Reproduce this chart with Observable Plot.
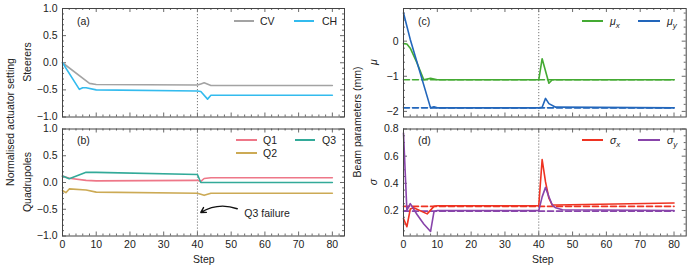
<!DOCTYPE html>
<html><head><meta charset="utf-8">
<script src="https://cdn.jsdelivr.net/npm/d3@7"></script>
<script src="https://cdn.jsdelivr.net/npm/@observablehq/plot@0.6"></script>
<style>
body{margin:0;background:#fff;font-family:"Liberation Sans",Arial,sans-serif;}
#chart{position:relative;width:691px;height:270px;overflow:hidden;background:#fff;}
#chart svg{position:absolute;}
.t{position:absolute;font-size:10.5px;color:#222;white-space:nowrap;line-height:12px;}
.sw{position:absolute;height:2px;}
.rot{position:absolute;font-size:10.5px;color:#222;white-space:nowrap;transform:translate(-50%,-50%) rotate(-90deg);}
</style></head><body><div id="chart"></div>
<script>
// ---------------- data ----------------
const failureStep = [40];
const xMajor = [0, 10, 20, 30, 40, 50, 60, 70, 80];

// (a) steerers
const cvStep = [0, 8, 10, 40, 41, 42, 44, 80];
const cvVal  = [0, -0.38, -0.40, -0.41, -0.39, -0.37, -0.42, -0.42];
const chStep = [0, 5, 6, 7, 10, 40, 41, 43, 44, 80];
const chVal  = [0, -0.49, -0.46, -0.46, -0.50, -0.52, -0.53, -0.67, -0.60, -0.60];

// (b) quadrupoles
const q1Step = [0, 2, 7, 10, 40, 41, 42, 44, 80];
const q1Val  = [0.12, 0.08, 0.04, 0.03, 0.04, 0.02, 0.075, 0.09, 0.09];
const q2Step = [0, 1, 2, 7, 10, 40, 42, 44, 80];
const q2Val  = [-0.15, -0.19, -0.12, -0.14, -0.18, -0.20, -0.24, -0.20, -0.20];
const q3Step = [0, 2, 7, 10, 40, 41, 80];
const q3Val  = [0.12, 0.07, 0.19, 0.19, 0.15, 0.0, 0.0];

// (c) beam centroid
const muxStep = [0, 1, 2, 4, 6, 7, 8, 9, 10, 40, 41, 43, 44, 80];
const muxVal  = [-0.07, -0.08, -0.2, -0.62, -1.1, -1.08, -1.06, -1.08, -1.1, -1.1, -0.5, -1.2, -1.1, -1.1];
const muyStep = [0, 2, 8, 9, 10, 40, 41, 42, 43, 45, 80];
const muyVal  = [0.8, 0.05, -1.9, -1.87, -1.9, -1.9, -1.88, -1.63, -1.78, -1.88, -1.9];
const muTargetStep = [0, 80];
const muxTarget = [-1.1, -1.1];
const muyTarget = [-1.9, -1.9];

// (d) beam size
const sxStep = [0, 1, 2, 3, 7, 9, 10, 40, 41, 42, 43, 44, 45, 80];
const sxVal  = [0.14, 0.08, 0.21, 0.22, 0.175, 0.23, 0.235, 0.235, 0.575, 0.41, 0.29, 0.24, 0.24, 0.255];
const syStep = [0, 1, 2, 4, 6, 8, 9, 10, 40, 41, 42, 43, 44, 45, 47, 80];
const syVal  = [0.77, 0.2, 0.25, 0.17, 0.1, 0.045, 0.19, 0.2, 0.2, 0.3, 0.37, 0.3, 0.24, 0.22, 0.205, 0.2];
const sTargetStep = [0, 80];
const sxTarget = [0.23, 0.23];
const syTarget = [0.195, 0.195];

// annotation
const annText = ["Q3 failure"];
const annTextPos = [[53.9, -0.58]];
const annArrow = [[51.8, -0.49, 41.0, -0.56]];

// ---------------- styling ----------------
const C = {cv:"#a3a3a3", ch:"#33bbee", q1:"#ee7788", q2:"#ccaa55", q3:"#33aa99",
           mux:"#44aa33", muy:"#2266bb", sx:"#ee3322", sy:"#8844aa"};
const axisCol = "#444";
const font = "'Liberation Sans', Arial, sans-serif";

const pts = (s, v) => s.map((x, i) => ({step: x, v: v[i]}));
const lineMark = (s, v, color, extra={}) => Plot.line(pts(s, v), {x:"step", y:"v", stroke:color, strokeWidth:1.6, ...extra});

function panel(o) {
  const ph = o.height - o.mT - o.mB, pw = o.width - o.mL - o.mR;
  const xDomain = [0, 83.6];
  const xMinor = d3.range(0, 84, 2).filter(d => d % 10 !== 0);
  const yMinor = o.yMinor.filter(d => !o.yMajor.some(m => Math.abs(m - d) < 1e-9));
  const tk = {stroke: axisCol, strokeWidth: 0.8};
  const marks = [
    Plot.ruleX(xMinor, {x: d => d, insetTop: ph - 2, ...tk}),
    Plot.ruleX(xMinor, {x: d => d, insetBottom: ph - 2, ...tk}),
    Plot.ruleX(xMajor, {x: d => d, insetTop: ph - 4, ...tk}),
    Plot.ruleX(xMajor, {x: d => d, insetBottom: ph - 4, ...tk}),
    Plot.ruleY(yMinor, {y: d => d, insetRight: pw - 2, ...tk}),
    Plot.ruleY(yMinor, {y: d => d, insetLeft: pw - 2, ...tk}),
    Plot.ruleY(o.yMajor, {y: d => d, insetRight: pw - 4, ...tk}),
    Plot.ruleY(o.yMajor, {y: d => d, insetLeft: pw - 4, ...tk}),
    Plot.ruleX(failureStep, {x: d => d, stroke: "#777", strokeWidth: 1, strokeDasharray: "1.2,1.8"}),
    ...o.marks,
    Plot.frame({stroke: axisCol, strokeWidth: 1}),
    Plot.axisY({ticks: o.yMajor, tickSize: 0, tickPadding: 5, tickFormat: o.yFmt, label: null, fill: "#222"})
  ];
  if (o.showX) marks.push(Plot.axisX({ticks: xMajor, tickSize: 0, tickPadding: 5, tickFormat: d => String(d), label: null, fill: "#222"}));
  const svg = Plot.plot({
    width: o.width, height: o.height,
    marginLeft: o.mL, marginRight: o.mR, marginTop: o.mT, marginBottom: o.mB,
    x: {domain: xDomain, axis: null, label: null},
    y: {domain: o.yDomain, axis: null, label: null},
    style: {background: "transparent", overflow: "visible", fontFamily: font, fontSize: "10.5px", color: "#222"},
    marks
  });
  svg.style.left = o.left + "px";
  svg.style.top = o.top + "px";
  return svg;
}

const chart = document.getElementById("chart");
const fmt1 = d3.format(".1f");
const fmt0 = d3.format("d");

// (a)
chart.appendChild(panel({
  left: 0, top: 0, width: 350, height: 122, mL: 62, mR: 6, mT: 8, mB: 5.5,
  yDomain: [-1, 1], yMajor: [-1, -0.5, 0, 0.5, 1], yMinor: d3.range(-1, 1.0001, 0.1).map(d => +d.toFixed(2)), yFmt: fmt1,
  showX: false,
  marks: [lineMark(cvStep, cvVal, C.cv), lineMark(chStep, chVal, C.ch)]
}));
// (b)
chart.appendChild(panel({
  left: 0, top: 120, width: 350, height: 150, mL: 62, mR: 6, mT: 8.5, mB: 34.5,
  yDomain: [-1, 1], yMajor: [-1, -0.5, 0, 0.5, 1], yMinor: d3.range(-1, 1.0001, 0.1).map(d => +d.toFixed(2)), yFmt: fmt1,
  showX: true,
  marks: [
    lineMark(q1Step, q1Val, C.q1), lineMark(q2Step, q2Val, C.q2), lineMark(q3Step, q3Val, C.q3),
    Plot.arrow(annArrow, {x1: d => d[0], y1: d => d[1], x2: d => d[2], y2: d => d[3], bend: -25, stroke: "#111", strokeWidth: 1.4, headLength: 6}),
    Plot.text(annText, {x: (d, i) => annTextPos[i][0], y: (d, i) => annTextPos[i][1], text: d => d, textAnchor: "start", fill: "#222", fontSize: 10.5})
  ]
}));
// (c)
chart.appendChild(panel({
  left: 345, top: 0, width: 346, height: 122, mL: 58, mR: 5.3, mT: 8, mB: 5.5,
  yDomain: [-2.16, 0.93], yMajor: [-2, -1, 0], yMinor: d3.range(-2.2, 1.0, 0.2).map(d => +d.toFixed(2)).filter(d => d >= -2.16 && d <= 0.93), yFmt: fmt0,
  showX: false,
  marks: [
    lineMark(muTargetStep, muxTarget, C.mux, {strokeDasharray: "6,3"}),
    lineMark(muTargetStep, muyTarget, C.muy, {strokeDasharray: "6,3"}),
    lineMark(muxStep, muxVal, C.mux), lineMark(muyStep, muyVal, C.muy)
  ]
}));
// (d)
chart.appendChild(panel({
  left: 345, top: 120, width: 346, height: 150, mL: 58, mR: 5.3, mT: 8.5, mB: 34.5,
  yDomain: [0.012, 0.8], yMajor: [0.2, 0.4, 0.6, 0.8], yMinor: d3.range(0.05, 0.8001, 0.05).map(d => +d.toFixed(2)), yFmt: fmt1,
  showX: true,
  marks: [
    lineMark(sTargetStep, sxTarget, C.sx, {strokeDasharray: "6,3"}),
    lineMark(sTargetStep, syTarget, C.sy, {strokeDasharray: "6,3"}),
    lineMark(sxStep, sxVal, C.sx), lineMark(syStep, syVal, C.sy)
  ]
}));

// ---------------- html text: labels & legends ----------------
function text(html, x, y, cls="t", extra="") {
  const d = document.createElement("div");
  d.className = cls; d.innerHTML = html;
  d.style.cssText += `left:${x}px;top:${y}px;${extra}`;
  chart.appendChild(d);
}
function swatch(x1, x2, y, color) {
  const d = document.createElement("div");
  d.className = "sw";
  d.style.cssText += `left:${x1}px;top:${y - 1}px;width:${x2 - x1}px;background:${color};`;
  chart.appendChild(d);
}
const legends = [
  [234, 254, 21, C.cv, "CV", 260], [294, 314, 21, C.ch, "CH", 322],
  [236, 257, 140, C.q1, "Q1", 263], [295, 315, 140, C.q3, "Q3", 322], [236, 257, 153, C.q2, "Q2", 263],
  [582, 603, 21, C.mux, "<i>μ<sub style='font-size:8px'>x</sub></i>", 610], [638, 660, 21, C.muy, "<i>μ<sub style='font-size:8px'>y</sub></i>", 667],
  [582, 603, 140, C.sx, "<i>σ<sub style='font-size:8px'>x</sub></i>", 610], [638, 660, 140, C.sy, "<i>σ<sub style='font-size:8px'>y</sub></i>", 667]
];
legends.forEach(([a, b, y, c, h, tx]) => { swatch(a, b, y, c); text(h, tx, y - 6); });

text("(a)", 77, 15); text("(b)", 77, 134); text("(c)", 418, 15); text("(d)", 418, 134);
text("Step", 193, 253); text("Step", 532, 253);
text("Normalised actuator setting", 10, 122, "rot");
text("Steerers", 27, 62, "rot");
text("Quadrupoles", 27, 182, "rot");
text("Beam parameters (mm)", 357, 122, "rot");
text("<i>μ</i>", 373, 62, "rot");
text("<i>σ</i>", 373, 182, "rot");
</script></body></html>
